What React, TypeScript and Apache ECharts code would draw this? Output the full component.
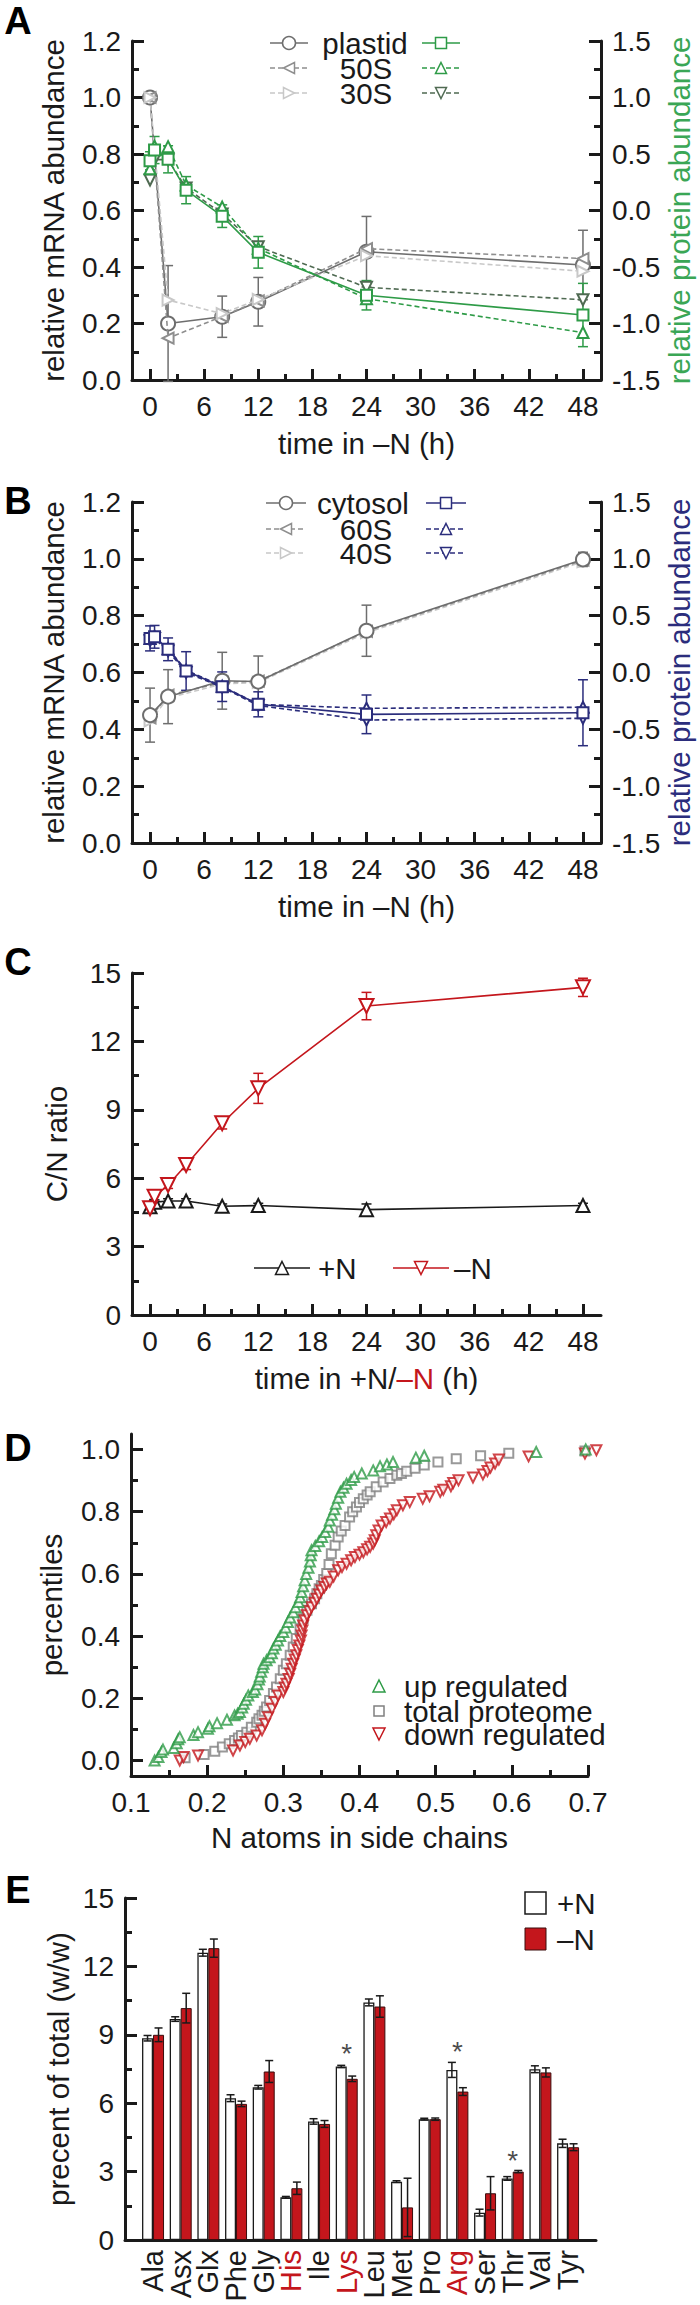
import React, { useEffect, useRef } from 'react';
import * as echarts from 'echarts';

const FONT = '"Liberation Sans", Arial, Helvetica, sans-serif';
const INK = '#1a1a1a';
const GREEN = '#2e9b47';
const GREEN_DARK = '#4f6a52';
const NAVY = '#2b2d7c';
const RED = '#c4161c';
const GRAY1 = '#6e6e6e';
const GRAY2 = '#8e8e8e';
const GRAY3 = '#c8c8c8';
const GRAY_SQ = '#808080';

// ---------- shared time axis ----------
const mrnaTimes = [0, 2, 8, 12, 24, 48];
const protTimes = [0, 0.5, 2, 4, 8, 12, 24, 48];
const timeTicks = [0, 6, 12, 18, 24, 30, 36, 42, 48];
const timeMinorTicks = [3, 9, 15, 21, 27, 33, 39, 45];

// ---------- Panel A (plastid) ----------
const legendA = ['plastid', '50S', '30S'];
const plastidMrna = [1.0, 0.2, 0.224, 0.277, 0.454, 0.407];
const plastidMrnaErr = [0, 0.205, 0.073, 0.086, 0.125, 0.123];
const s50Mrna = [1.0, 0.148, 0.225, 0.28, 0.465, 0.43];
const s30Mrna = [1.0, 0.283, 0.235, 0.285, 0.44, 0.385];
const plastidProt = [0.44, 0.535, 0.453, 0.18, -0.05, -0.37, -0.75, -0.925];
const plastidProtErr = [0.08, 0.12, 0.12, 0.12, 0.1, 0.14, 0.13, 0.28];
const s50Prot = [0.37, 0.57, 0.565, 0.226, 0.03, -0.335, -0.78, -1.08];
const s30Prot = [0.27, 0.45, 0.45, 0.2, -0.03, -0.32, -0.68, -0.79];

// ---------- Panel B (cytosol) ----------
const legendB = ['cytosol', '60S', '40S'];
const cytoMrna = [0.45, 0.515, 0.571, 0.568, 0.747, 0.998];
const cytoMrnaErr = [0.095, 0.095, 0.1, 0.09, 0.09, 0.025];
const s60Mrna = [0.44, 0.52, 0.565, 0.57, 0.745, 0.995];
const s40Mrna = [0.43, 0.51, 0.56, 0.565, 0.74, 0.99];
const cytoProt = [0.3, 0.314, 0.204, 0.013, -0.125, -0.28, -0.368, -0.354];
const cytoProtErr = [0.11, 0.1, 0.1, 0.17, 0.13, 0.11, 0.17, 0.29];
const s60Prot = [0.3, 0.32, 0.21, 0.02, -0.12, -0.28, -0.315, -0.306];
const s40Prot = [0.28, 0.3, 0.19, 0.0, -0.13, -0.29, -0.418, -0.403];

// ---------- Panel C (C/N ratio) ----------
const cnPlus = [4.75, 4.95, 5.0, 5.0, 4.77, 4.8, 4.62, 4.8];
const cnPlusErr = [0.1, 0.1, 0.1, 0.1, 0.1, 0.1, 0.25, 0.1];
const cnMinus = [4.68, 5.19, 5.7, 6.58, 8.41, 9.94, 13.55, 14.37];
const cnMinusErr = [0.15, 0.2, 0.15, 0.2, 0.25, 0.66, 0.6, 0.4];

// ---------- Panel D (cumulative distributions) ----------
const legendD = ['up regulated', 'total proteome', 'down regulated'];
const upRegulated = [
  [0.131, 0.0], [0.136, 0.011], [0.14, 0.027], [0.142, 0.035], [0.156, 0.04], [0.16, 0.055], [0.162, 0.068],
  [0.164, 0.075], [0.182, 0.082], [0.188, 0.091], [0.201, 0.102], [0.203, 0.11], [0.213, 0.12], [0.226, 0.131],
  [0.236, 0.145], [0.24, 0.15], [0.243, 0.156], [0.246, 0.17], [0.248, 0.182], [0.251, 0.195], [0.254, 0.209],
  [0.26, 0.22], [0.263, 0.228], [0.266, 0.245], [0.268, 0.26], [0.269, 0.27], [0.271, 0.285], [0.273, 0.3],
  [0.274, 0.311], [0.278, 0.322], [0.282, 0.332], [0.285, 0.345], [0.287, 0.36], [0.29, 0.372], [0.293, 0.386],
  [0.296, 0.4], [0.3, 0.413], [0.303, 0.428], [0.306, 0.445], [0.309, 0.46], [0.313, 0.477], [0.316, 0.493],
  [0.32, 0.51], [0.322, 0.525], [0.324, 0.542], [0.326, 0.56], [0.328, 0.58], [0.33, 0.6], [0.333, 0.62],
  [0.335, 0.64], [0.336, 0.66], [0.337, 0.676], [0.342, 0.69], [0.347, 0.705], [0.351, 0.719], [0.355, 0.735],
  [0.359, 0.752], [0.361, 0.772], [0.364, 0.79], [0.367, 0.808], [0.369, 0.826], [0.372, 0.845], [0.375, 0.864],
  [0.379, 0.877], [0.383, 0.89], [0.389, 0.902], [0.393, 0.912], [0.403, 0.923], [0.418, 0.933], [0.427, 0.946],
  [0.436, 0.952], [0.444, 0.96], [0.474, 0.974], [0.485, 0.98], [0.632, 0.992], [0.697, 1.0],
];
const totalProteome = [
  [0.171, 0.009], [0.196, 0.019], [0.21, 0.03], [0.22, 0.043], [0.229, 0.054], [0.236, 0.064], [0.241, 0.072],
  [0.245, 0.08], [0.252, 0.091], [0.258, 0.107], [0.265, 0.123], [0.268, 0.134], [0.272, 0.145], [0.275, 0.158],
  [0.278, 0.172], [0.282, 0.193], [0.287, 0.215], [0.291, 0.236], [0.296, 0.263], [0.3, 0.29], [0.304, 0.311],
  [0.309, 0.338], [0.313, 0.365], [0.317, 0.392], [0.322, 0.424], [0.326, 0.456], [0.331, 0.483], [0.337, 0.504],
  [0.341, 0.52], [0.344, 0.536], [0.347, 0.552], [0.35, 0.563], [0.353, 0.582], [0.357, 0.601], [0.36, 0.63],
  [0.363, 0.665], [0.368, 0.692], [0.372, 0.719], [0.376, 0.738], [0.381, 0.756], [0.387, 0.783], [0.391, 0.8],
  [0.396, 0.815], [0.4, 0.83], [0.405, 0.842], [0.41, 0.854], [0.414, 0.864], [0.422, 0.88], [0.431, 0.896],
  [0.44, 0.907], [0.449, 0.917], [0.455, 0.923], [0.462, 0.93], [0.473, 0.94], [0.485, 0.95], [0.503, 0.96],
  [0.527, 0.97], [0.559, 0.98], [0.596, 0.988], [0.696, 0.995],
];
const downRegulated = [
  [0.164, 0.0], [0.169, 0.011], [0.188, 0.016], [0.234, 0.032], [0.243, 0.048], [0.25, 0.059], [0.256, 0.07],
  [0.265, 0.08], [0.272, 0.097], [0.276, 0.118], [0.28, 0.139], [0.285, 0.166], [0.289, 0.188], [0.293, 0.209],
  [0.3, 0.22], [0.302, 0.235], [0.304, 0.247], [0.307, 0.262], [0.309, 0.279], [0.311, 0.295], [0.313, 0.311],
  [0.315, 0.325], [0.317, 0.338], [0.319, 0.355], [0.321, 0.37], [0.323, 0.386], [0.324, 0.402], [0.325, 0.418],
  [0.326, 0.434], [0.328, 0.45], [0.331, 0.467], [0.334, 0.48], [0.337, 0.493], [0.341, 0.507], [0.344, 0.52],
  [0.347, 0.534], [0.35, 0.547], [0.354, 0.558], [0.357, 0.569], [0.361, 0.575], [0.366, 0.592], [0.372, 0.612],
  [0.377, 0.622], [0.383, 0.633], [0.389, 0.644], [0.394, 0.654], [0.4, 0.662], [0.405, 0.67], [0.41, 0.679],
  [0.414, 0.687], [0.418, 0.698], [0.42, 0.708], [0.422, 0.724], [0.425, 0.74], [0.429, 0.756], [0.435, 0.767],
  [0.44, 0.778], [0.445, 0.792], [0.449, 0.805], [0.457, 0.821], [0.466, 0.831], [0.483, 0.842], [0.492, 0.85],
  [0.506, 0.864], [0.51, 0.871], [0.52, 0.882], [0.523, 0.892], [0.53, 0.901], [0.549, 0.91], [0.562, 0.92],
  [0.568, 0.931], [0.572, 0.942], [0.578, 0.955], [0.583, 0.968], [0.622, 0.978], [0.696, 0.987], [0.711, 0.998],
];
const dYTicks = [0, 0.2, 0.4, 0.6, 0.8, 1.0];
const dYMinorTicks = [0.1, 0.3, 0.5, 0.7, 0.9];

// ---------- Panel E (amino acids) ----------
const aminoAcids = ['Ala', 'Asx', 'Glx', 'Phe', 'Gly', 'His', 'Ile', 'Lys', 'Leu', 'Met', 'Pro', 'Arg', 'Ser', 'Thr', 'Val', 'Tyr'];
const redAminoAcids = ['His', 'Lys', 'Arg'];
const plusN = [8.85, 9.69, 12.6, 6.22, 6.7, 1.87, 5.2, 7.61, 10.42, 2.56, 5.3, 7.46, 1.2, 2.7, 7.49, 4.24];
const plusNErr = [0.12, 0.1, 0.15, 0.15, 0.08, 0.04, 0.12, 0.05, 0.15, 0.04, 0.04, 0.33, 0.15, 0.08, 0.15, 0.18];
const minusN = [9.0, 10.17, 12.8, 5.97, 7.39, 2.27, 5.09, 7.07, 10.24, 1.43, 5.3, 6.51, 2.05, 3.0, 7.35, 4.07];
const minusNErr = [0.3, 0.65, 0.4, 0.12, 0.48, 0.27, 0.15, 0.12, 0.47, 1.28, 0.05, 0.17, 0.73, 0.05, 0.2, 0.15];
const starred = ['Lys', 'Arg', 'Thr'];
const starLevel = [8.2, 8.25, 3.5];

// ---------- helpers ----------
const TICK_W = 3;
const axisLine = { show: true, onZero: false, lineStyle: { color: INK, width: 3 } };
const noLine = { show: false, onZero: false };
const tickFont = { color: INK, fontSize: 28, fontFamily: FONT };
const titleFont = { color: INK, fontSize: 29.5, fontFamily: FONT, lineHeight: 30 };

function timeAxes(gridIndex: number, name: any, nameStyle: any) {
  return [
    {
      type: 'value', gridIndex, min: -2, max: 50, position: 'bottom', axisLine,
      axisTick: { show: true, inside: true, length: 11, lineStyle: { color: INK, width: TICK_W }, customValues: timeTicks },
      axisLabel: { ...tickFont, margin: 12, customValues: timeTicks },
      splitLine: { show: false },
      name, nameLocation: 'middle', nameGap: 48, nameTextStyle: nameStyle,
    },
    {
      type: 'value', gridIndex, min: -2, max: 50, position: 'bottom', axisLine: noLine,
      axisTick: { show: true, inside: true, length: 6, lineStyle: { color: INK, width: TICK_W }, customValues: timeMinorTicks },
      axisLabel: { show: false }, splitLine: { show: false },
    },
  ];
}

function yAx(gridIndex: number, min: number, max: number, interval: number, position: string,
  name: string, nameColor: string, nameGap: number, digits: number) {
  return {
    type: 'value', gridIndex, min, max, interval, position, axisLine,
    axisTick: { show: true, inside: true, length: 12, lineStyle: { color: INK, width: TICK_W } },
    minorTick: { show: true, splitNumber: 2, length: 7, lineStyle: { color: INK, width: TICK_W } },
    axisLabel: { ...tickFont, margin: 11, formatter: (v: number) => v.toFixed(digits) },
    splitLine: { show: false }, minorSplitLine: { show: false },
    name, nameLocation: 'middle', nameGap, nameRotate: 90, nameMoveOverlap: false,
    nameTextStyle: { ...titleFont, color: nameColor },
  };
}

function errRender(color: string, cap: number, lw: number, dx = 0) {
  return (params: any, api: any) => {
    const x = api.value(0);
    const y = api.value(1);
    const e = api.value(2);
    if (!e) return null;
    const p1 = api.coord([x, y + e]);
    const p2 = api.coord([x, y - e]);
    const cx = p1[0] + dx;
    const st = { stroke: color, lineWidth: lw };
    return {
      type: 'group',
      children: [
        { type: 'line', shape: { x1: cx, y1: p1[1], x2: cx, y2: p2[1] }, style: st },
        { type: 'line', shape: { x1: cx - cap, y1: p1[1], x2: cx + cap, y2: p1[1] }, style: st },
        { type: 'line', shape: { x1: cx - cap, y1: p2[1], x2: cx + cap, y2: p2[1] }, style: st },
      ],
    };
  };
}

function zip(xs: number[], ys: number[]) {
  return xs.map((x, i) => [x, ys[i]]);
}
function zip3(xs: any[], ys: number[], es: number[]) {
  return xs.map((x, i) => [x, ys[i], es[i]]);
}

function lineSeries(name: string, xi: number, yi: number, xs: number[], ys: number[], color: string,
  symbol: string, size: number, rotate: number, dashed: boolean, z = 3) {
  return {
    type: 'line', name, xAxisIndex: xi, yAxisIndex: yi, data: zip(xs, ys),
    symbol, symbolSize: size, symbolRotate: rotate, showSymbol: true, z,
    lineStyle: { color, width: 1.6, type: dashed ? [5, 3] : 'solid' },
    itemStyle: { color, borderColor: color, borderWidth: 1.5 },
    emphasis: { disabled: true },
  };
}

function errSeries(xi: number, yi: number, data: any[], color: string, cap = 5, dx = 0, z = 2) {
  return {
    type: 'custom', coordinateSystem: 'cartesian2d', xAxisIndex: xi, yAxisIndex: yi,
    data, renderItem: errRender(color, cap, 1.5, dx), z, silent: true, clip: false,
  };
}

type Mk = 'circle' | 'rect' | 'up' | 'down' | 'left' | 'right';
function marker(kind: Mk, cx: number, cy: number, s: number, color: string, lw = 1.5, fill = '#fff'): any {
  const h = s / 2;
  const style = { fill, stroke: color, lineWidth: lw };
  if (kind === 'circle') return { type: 'circle', shape: { cx, cy, r: h }, style };
  if (kind === 'rect') return { type: 'rect', shape: { x: cx - h, y: cy - h, width: s, height: s }, style };
  let pts: number[][];
  if (kind === 'up') pts = [[cx, cy - h], [cx + h, cy + h], [cx - h, cy + h]];
  else if (kind === 'down') pts = [[cx, cy + h], [cx + h, cy - h], [cx - h, cy - h]];
  else if (kind === 'left') pts = [[cx - h, cy], [cx + h, cy - h], [cx + h, cy + h]];
  else pts = [[cx + h, cy], [cx - h, cy - h], [cx - h, cy + h]];
  return { type: 'polygon', shape: { points: pts }, style };
}
function sample(x1: number, x2: number, y: number, kind: Mk, color: string, dashed: boolean, s = 11): any[] {
  return [
    { type: 'line', shape: { x1, y1: y, x2, y2: y }, style: { stroke: color, lineWidth: 1.6, lineDash: dashed ? [5, 3] : null } },
    marker(kind, (x1 + x2) / 2, y, s, color),
  ];
}
function txt(text: string, x: number, y: number, align: string, size = 29.5, color = INK, weight = 'normal', lh = 22): any {
  return {
    type: 'text', x, y, z: 100,
    style: {
      text, fill: color, fontSize: size, fontFamily: FONT, fontWeight: weight, lineHeight: lh,
      align, textAlign: align, verticalAlign: 'middle', textVerticalAlign: 'middle',
    },
  };
}

function buildOption() {
  const grids = [
    { left: 132, top: 41, width: 469, height: 339 },
    { left: 132, top: 502, width: 469, height: 341 },
    { left: 132, top: 973, width: 469, height: 342 },
    { left: 131, top: 1434, width: 457, height: 342 },
    { left: 139.2, top: 1898, width: 442.7, height: 342 },
    { left: 125, top: 1898, width: 471, height: 342 },
  ].map((g) => ({ ...g, containLabel: false, outerBoundsMode: 'none' }));

  const xAxis: any[] = [
    ...timeAxes(0, 'time in –N (h)', titleFont), // 0,1
    ...timeAxes(1, 'time in –N (h)', titleFont), // 2,3
    ...timeAxes(2, '{a|time in +N/}{r|–N}{a| (h)}', {
      rich: {
        a: { fontSize: 29.5, fontFamily: FONT, color: INK },
        r: { fontSize: 29.5, fontFamily: FONT, color: RED },
      },
    }), // 4,5
    {
      type: 'value', gridIndex: 3, min: 0.1, max: 0.7, interval: 0.1, position: 'bottom', axisLine,
      axisTick: { show: true, inside: true, length: 11, lineStyle: { color: INK, width: TICK_W } },
      minorTick: { show: true, splitNumber: 2, length: 6, lineStyle: { color: INK, width: TICK_W } },
      axisLabel: { ...tickFont, margin: 12, formatter: (v: number) => v.toFixed(1) },
      splitLine: { show: false }, minorSplitLine: { show: false },
      name: 'N atoms in side chains', nameLocation: 'middle', nameGap: 46, nameTextStyle: titleFont,
    }, // 6
    {
      type: 'category', gridIndex: 4, data: aminoAcids, position: 'bottom', axisLine: noLine, axisTick: { show: false },
      axisLabel: {
        rotate: 90, margin: 10, interval: 0,
        formatter: (v: string) => (redAminoAcids.includes(v) ? `{r|${v}}` : `{k|${v}}`),
        rich: {
          r: { color: RED, fontSize: 29, fontFamily: FONT },
          k: { color: INK, fontSize: 29, fontFamily: FONT },
        },
      },
    }, // 7
    {
      type: 'value', gridIndex: 5, min: 0, max: 1, position: 'bottom', axisLine, axisTick: { show: false },
      axisLabel: { show: false }, splitLine: { show: false },
    }, // 8
  ];

  const yAxis: any[] = [
    yAx(0, 0, 1.2, 0.2, 'left', 'relative mRNA abundance', INK, 64, 1), // 0
    yAx(0, -1.5, 1.5, 0.5, 'right', 'relative protein abundance', '#3aa655', 63, 1), // 1
    yAx(1, 0, 1.2, 0.2, 'left', 'relative mRNA abundance', INK, 64, 1), // 2
    yAx(1, -1.5, 1.5, 0.5, 'right', 'relative protein abundance', NAVY, 63, 1), // 3
    yAx(2, 0, 15, 3, 'left', 'C/N ratio', INK, 61, 0), // 4
    {
      type: 'value', gridIndex: 3, min: -0.05, max: 1.05, position: 'left', axisLine,
      axisTick: { show: true, inside: true, length: 12, lineStyle: { color: INK, width: TICK_W }, customValues: dYTicks },
      axisLabel: { ...tickFont, margin: 11, customValues: dYTicks, formatter: (v: number) => v.toFixed(1) },
      splitLine: { show: false },
      name: 'percentiles', nameLocation: 'middle', nameGap: 65, nameRotate: 90, nameMoveOverlap: false,
      nameTextStyle: titleFont,
    }, // 5
    {
      type: 'value', gridIndex: 3, min: -0.05, max: 1.05, position: 'left', axisLine: noLine,
      axisTick: { show: true, inside: true, length: 7, lineStyle: { color: INK, width: TICK_W }, customValues: dYMinorTicks },
      axisLabel: { show: false }, splitLine: { show: false },
    }, // 6
    { type: 'value', gridIndex: 4, min: 0, max: 15, show: false }, // 7
    yAx(5, 0, 15, 3, 'left', 'precent of total (w/w)', INK, 52, 0), // 8
  ];

  const series: any[] = [
    // Panel A
    errSeries(0, 0, zip3(mrnaTimes, plastidMrna, plastidMrnaErr), GRAY1),
    errSeries(0, 1, zip3(protTimes, plastidProt, plastidProtErr), GREEN),
    lineSeries('plastid mRNA', 0, 0, mrnaTimes, plastidMrna, GRAY1, 'emptyCircle', 14, 0, false, 3),
    lineSeries('50S mRNA', 0, 0, mrnaTimes, s50Mrna, GRAY2, 'emptyTriangle', 11, 90, true, 4),
    lineSeries('30S mRNA', 0, 0, mrnaTimes, s30Mrna, GRAY3, 'emptyTriangle', 11, -90, true, 4),
    lineSeries('30S protein', 0, 1, protTimes, s30Prot, GREEN_DARK, 'emptyTriangle', 11, 180, true, 4),
    lineSeries('50S protein', 0, 1, protTimes, s50Prot, GREEN, 'emptyTriangle', 11, 0, true, 5),
    lineSeries('plastid protein', 0, 1, protTimes, plastidProt, GREEN, 'emptyRect', 11, 0, false, 6),

    // Panel B
    errSeries(2, 2, zip3(mrnaTimes, cytoMrna, cytoMrnaErr), GRAY1),
    errSeries(2, 3, zip3(protTimes, cytoProt, cytoProtErr), NAVY),
    lineSeries('40S mRNA', 2, 2, mrnaTimes, s40Mrna, GRAY3, 'emptyTriangle', 11, -90, true, 3),
    lineSeries('60S mRNA', 2, 2, mrnaTimes, s60Mrna, GRAY2, 'emptyTriangle', 11, 90, true, 3),
    lineSeries('cytosol mRNA', 2, 2, mrnaTimes, cytoMrna, GRAY1, 'emptyCircle', 14, 0, false, 4),
    lineSeries('40S protein', 2, 3, protTimes, s40Prot, NAVY, 'emptyTriangle', 11, 180, true, 5),
    lineSeries('60S protein', 2, 3, protTimes, s60Prot, NAVY, 'emptyTriangle', 11, 0, true, 5),
    lineSeries('cytosol protein', 2, 3, protTimes, cytoProt, NAVY, 'emptyRect', 11, 0, false, 6),

    // Panel C
    errSeries(4, 4, zip3(protTimes, cnPlus, cnPlusErr), INK),
    errSeries(4, 4, zip3(protTimes, cnMinus, cnMinusErr), RED),
    lineSeries('+N', 4, 4, protTimes, cnPlus, INK, 'emptyTriangle', 13, 0, false, 4),
    lineSeries('–N', 4, 4, protTimes, cnMinus, RED, 'emptyTriangle', 14, 180, false, 5),

    // Panel D
    {
      type: 'scatter', name: 'total proteome', xAxisIndex: 6, yAxisIndex: 5, data: totalProteome, clip: false,
      symbol: 'emptyRect', symbolSize: 9, itemStyle: { color: GRAY_SQ, borderColor: GRAY_SQ, borderWidth: 1.3 }, z: 3,
    },
    {
      type: 'scatter', name: 'down regulated', xAxisIndex: 6, yAxisIndex: 5, data: downRegulated, clip: false,
      symbol: 'emptyTriangle', symbolRotate: 180, symbolSize: 10, itemStyle: { color: RED, borderColor: RED, borderWidth: 1.3 }, z: 4,
    },
    {
      type: 'scatter', name: 'up regulated', xAxisIndex: 6, yAxisIndex: 5, data: upRegulated, clip: false,
      symbol: 'emptyTriangle', symbolSize: 10, itemStyle: { color: GREEN, borderColor: GREEN, borderWidth: 1.3 }, z: 5,
    },

    // Panel E
    {
      type: 'bar', name: '+N', xAxisIndex: 7, yAxisIndex: 7, data: plusN, barWidth: 11, barGap: '0%',
      itemStyle: { color: '#ffffff', borderColor: INK, borderWidth: 1.3 }, z: 2,
    },
    {
      type: 'bar', name: '–N', xAxisIndex: 7, yAxisIndex: 7, data: minusN, barWidth: 11, barGap: '0%',
      itemStyle: { color: RED, borderColor: '#3a0d0d', borderWidth: 1 }, z: 2,
    },
    errSeries(7, 7, aminoAcids.map((a, i) => [i, plusN[i], plusNErr[i]]), INK, 4, -5.5, 5),
    errSeries(7, 7, aminoAcids.map((a, i) => [i, minusN[i], minusNErr[i]]), INK, 4, 5.5, 5),
    {
      type: 'scatter', xAxisIndex: 7, yAxisIndex: 7, symbolSize: 0, z: 6, silent: true,
      data: starred.map((a, i) => [aminoAcids.indexOf(a), starLevel[i]]),
      label: { show: true, position: 'inside', formatter: '*', fontSize: 28, fontFamily: FONT, color: INK },
    },
  ];

  const graphicEls: any[] = [
    // panel letters
    txt('A', 18, 21, 'center', 38, '#000', 'bold', 34),
    txt('B', 18, 501, 'center', 38, '#000', 'bold', 34),
    txt('C', 18, 962, 'center', 38, '#000', 'bold', 34),
    txt('D', 18, 1448, 'center', 38, '#000', 'bold', 34),
    txt('E', 18, 1890, 'center', 38, '#000', 'bold', 34),

    // legend A
    ...sample(270, 308, 43, 'circle', GRAY1, false, 13),
    txt(legendA[0], 365, 43, 'center'),
    ...sample(422, 460, 43, 'rect', GREEN, false),
    ...sample(270, 308, 68, 'left', GRAY2, true),
    txt(legendA[1], 366, 68, 'center'),
    ...sample(422, 460, 68, 'up', GREEN, true),
    ...sample(270, 308, 93, 'right', GRAY3, true),
    txt(legendA[2], 366, 93, 'center'),
    ...sample(422, 460, 93, 'down', GREEN_DARK, true),

    // legend B
    ...sample(266, 306, 503, 'circle', GRAY1, false, 13),
    txt(legendB[0], 363, 503, 'center'),
    ...sample(426, 466, 503, 'rect', NAVY, false),
    ...sample(266, 306, 529, 'left', GRAY2, true),
    txt(legendB[1], 366, 529, 'center'),
    ...sample(426, 466, 529, 'up', NAVY, true),
    ...sample(266, 306, 553, 'right', GRAY3, true),
    txt(legendB[2], 366, 553, 'center'),
    ...sample(426, 466, 553, 'down', NAVY, true),

    // legend C
    ...sample(254, 310, 1268, 'up', INK, false, 13),
    txt('+N', 318, 1268, 'left'),
    ...sample(393, 449, 1268, 'down', RED, false, 13),
    txt('–N', 454, 1268, 'left'),

    // legend D
    marker('up', 379, 1686, 12, GREEN),
    txt(legendD[0], 404, 1686, 'left'),
    marker('rect', 379, 1711, 10, GRAY_SQ),
    txt(legendD[1], 404, 1711, 'left'),
    marker('down', 379, 1734, 12, RED),
    txt(legendD[2], 404, 1734, 'left'),

    // legend E
    { type: 'rect', shape: { x: 525, y: 1892, width: 21, height: 22 }, style: { fill: '#fff', stroke: INK, lineWidth: 1.5 } },
    txt('+N', 557, 1903, 'left'),
    { type: 'rect', shape: { x: 525, y: 1928, width: 21, height: 22 }, style: { fill: RED, stroke: '#3a0d0d', lineWidth: 1 } },
    txt('–N', 557, 1939, 'left'),
  ];

  return {
    animation: false,
    backgroundColor: '#ffffff',
    textStyle: { fontFamily: FONT },
    grid: grids,
    xAxis,
    yAxis,
    series,
    graphic: { elements: graphicEls },
  };
}

export default function App() {
  const ref = useRef<HTMLDivElement>(null);
  useEffect(() => {
    if (!ref.current) return;
    const chart = echarts.init(ref.current, undefined, { renderer: 'svg' });
    chart.setOption(buildOption() as any);
    return () => chart.dispose();
  }, []);
  return (
    <div
      ref={ref}
      style={{ position: 'absolute', left: 0, top: 0, width: 700, height: 2305, background: '#fff' }}
    />
  );
}
